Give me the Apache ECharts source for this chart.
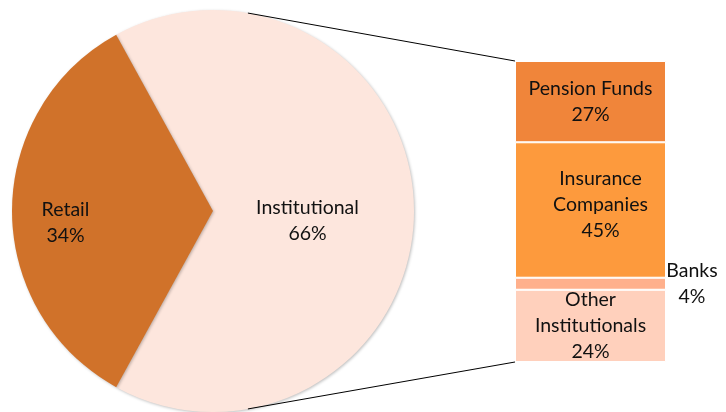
<!DOCTYPE html>
<html>
<head>
<meta charset="utf-8">
<script src="https://cdn.jsdelivr.net/npm/echarts@6/dist/echarts.min.js"></script>
<style>
  html, body { margin: 0; padding: 0; background: #fff; }
  #chart { width: 726px; height: 412px; }
</style>
</head>
<body>
<div id="chart"></div>
<script>
// pie: investor type
const pieNames = ['Institutional', 'Retail'];
const pieValues = [66, 34];
const pieColors = ['#FDE6DD', '#D0722A'];

// bar: split of institutional
const barNames = ['Pension Funds', 'Insurance Companies', 'Banks', 'Other Institutionals'];
const barValues = [27, 45, 4, 24];
const barLabels = ['Pension Funds\n27%', 'Insurance\nCompanies\n45%', 'Banks\n4%', 'Other\nInstitutionals\n24%'];
const barColors = ['#F0853A', '#FD9A3D', '#FFB08C', '#FFD0BC'];

const FONT = 'Lato';
const FS = 19.5;
const cx = 213, cy = 211, R = 201;

const chart = echarts.init(document.getElementById('chart'));

// pie labels sit off the default spot, nudge them
const pieOffsets = [[-9, 10], [-44, 12]];

const barSeries = barValues.map((v, i) => ({
  name: barNames[i],
  type: 'bar',
  stack: 'inst',
  barWidth: '100%',
  data: [v],
  itemStyle: { color: barColors[i], borderColor: '#fff', borderWidth: 1 },
  label: {
    show: true,
    formatter: barLabels[i],
    position: i === 2 ? 'right' : 'inside',
    distance: 26,
    offset: i === 1 ? [10, -5] : [0, 0],
    color: '#111',
    fontFamily: FONT,
    fontSize: FS,
    lineHeight: 26,
    align: 'center'
  }
}));

chart.setOption({
  animation: false,
  grid: { left: 515, top: 61, width: 151, height: 301 },
  xAxis: { type: 'category', data: ['inst'], show: false },
  yAxis: { type: 'value', min: 0, max: 100, inverse: true, show: false },
  series: [
    {
      type: 'pie',
      center: [cx, cy],
      radius: R,
      startAngle: 180 - pieValues[1] * 1.8,
      clockwise: true,
      itemStyle: {
        shadowBlur: 3,
        shadowColor: 'rgba(0,0,0,0.25)',
        shadowOffsetX: 1,
        shadowOffsetY: 1
      },
      data: pieValues.map((v, i) => ({
        name: pieNames[i],
        value: v,
        itemStyle: { color: pieColors[i] },
        label: { offset: pieOffsets[i] }
      })),
      label: {
        show: true,
        position: 'inside',
        formatter: p => p.name + '\n' + p.value + '%',
        color: '#111',
        fontFamily: FONT,
        fontSize: FS,
        lineHeight: 26
      },
      labelLine: { show: false }
    }
  ].concat(barSeries)
});

// connector lines from the pie edge to the bar's top and bottom corners
function drawLines() {
  const top = chart.convertToPixel({ gridIndex: 0 }, [0, 0]);
  const bot = chart.convertToPixel({ gridIndex: 0 }, [0, 100]);
  const barLeft = 515;
  const a = 80 * Math.PI / 180;
  const p1 = [cx + R * Math.cos(a), cy - R * Math.sin(a)];
  const p2 = [cx + R * Math.cos(a), cy + R * Math.sin(a)];
  chart.setOption({
    graphic: [
      { type: 'line', shape: { x1: p1[0], y1: p1[1], x2: barLeft, y2: top[1] }, style: { stroke: '#000', lineWidth: 1 }, z: 10 },
      { type: 'line', shape: { x1: p2[0], y1: p2[1], x2: barLeft, y2: bot[1] }, style: { stroke: '#000', lineWidth: 1 }, z: 10 }
    ]
  });
}
drawLines();
</script>
</body>
</html>
